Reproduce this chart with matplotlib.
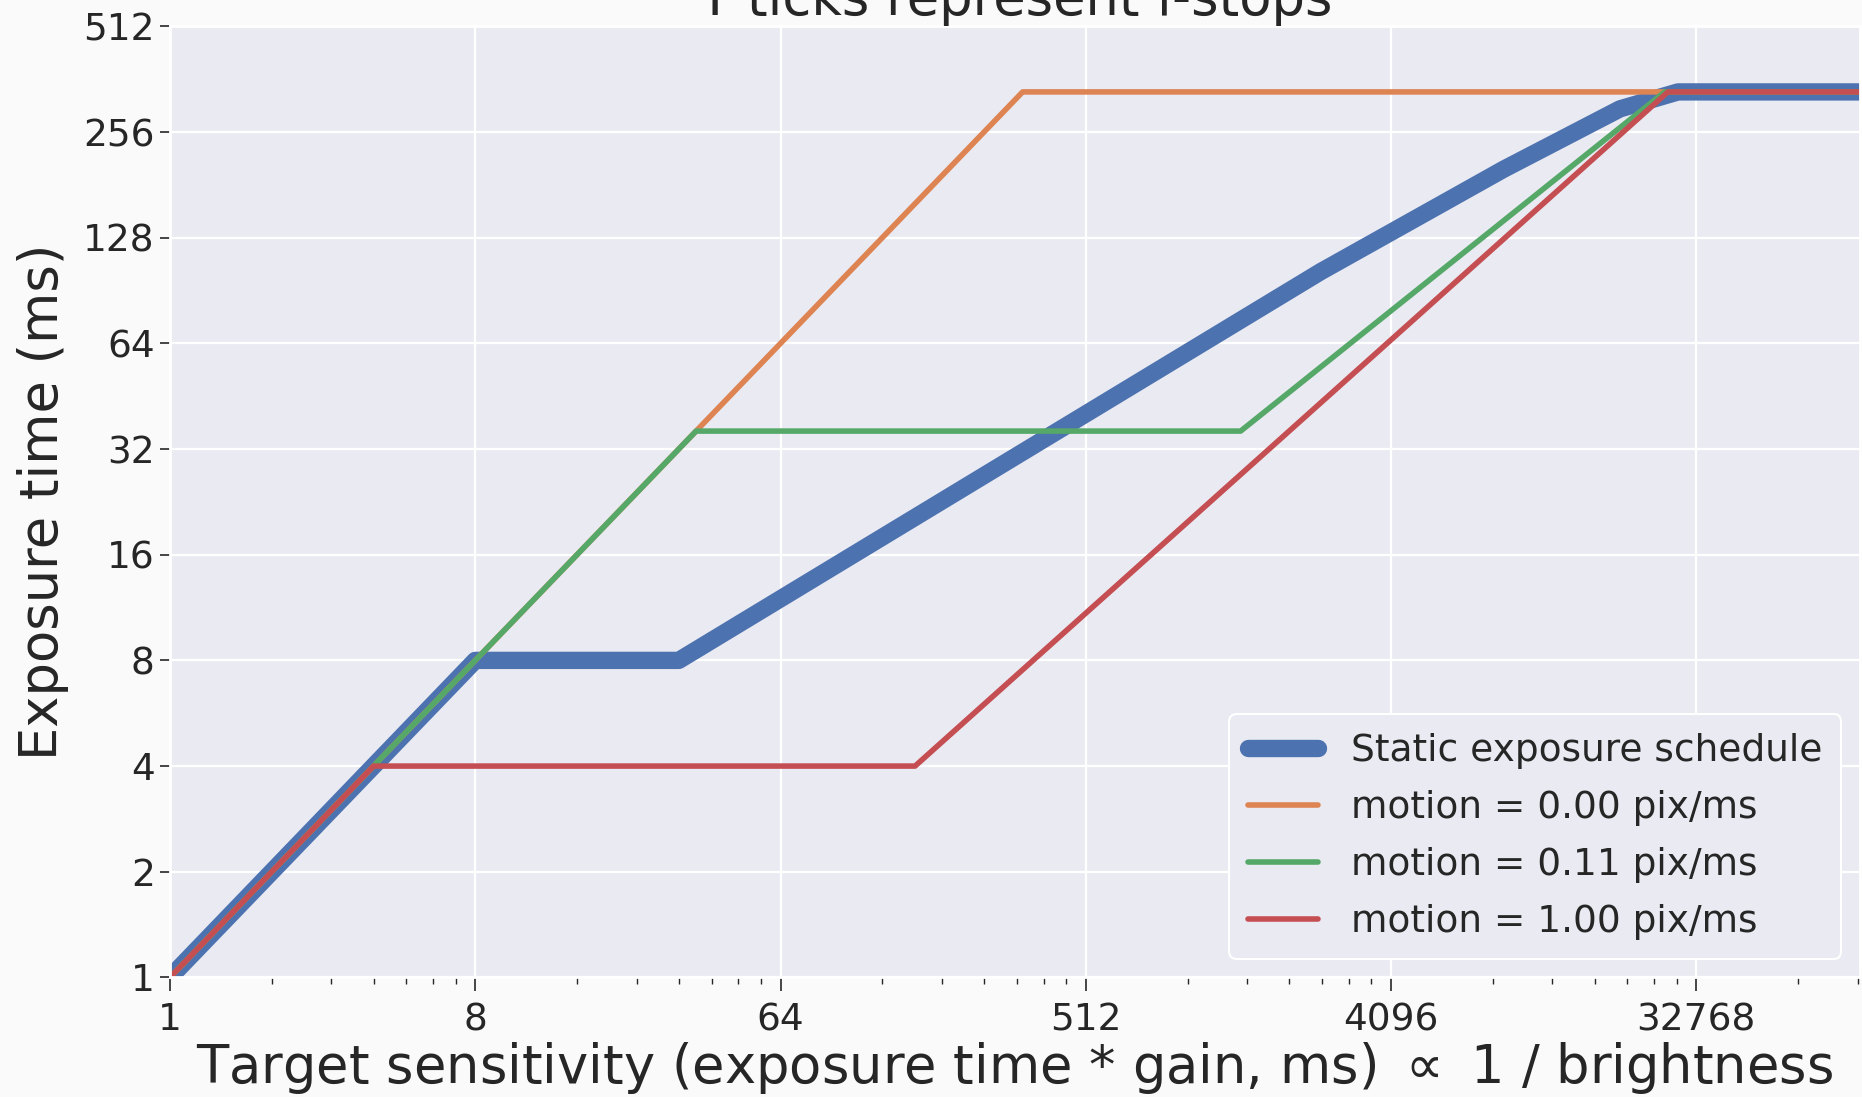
import matplotlib
matplotlib.use("Agg")
import matplotlib.pyplot as plt
from matplotlib.ticker import FixedLocator, FuncFormatter, LogLocator, NullFormatter

# data (x = target sensitivity, y = exposure time in ms)
static_x = [1, 8, 32, 2539, 8840, 19480, 28920, 100000]
static_y = [1, 8, 8, 102.5, 200.8, 298, 333, 333]

m000_x = [1, 333, 100000]
m000_y = [1, 333, 333]

m011_x = [1, 36, 1470, 26400, 100000]
m011_y = [1, 36, 36, 333, 333]

m100_x = [1, 4, 160, 27000, 100000]
m100_y = [1, 4, 4, 333, 333]

x_ticks = [1, 8, 64, 512, 4096, 32768]
y_ticks = [1, 2, 4, 8, 16, 32, 64, 128, 256, 512]

plt.style.use("seaborn-v0_8-darkgrid")
plt.rcParams['font.family'] = ['DejaVu Sans']

fig = plt.figure(figsize=(18.62, 10.97), dpi=100, facecolor='#fafafa')
ax = fig.add_axes([0.0913, 0.109, 0.9077, 0.867])
ax.set_facecolor('#eaeaf2')

ax.plot(static_x, static_y, color='#4c72b0', lw=12.5, solid_capstyle='round',
        solid_joinstyle='round', label='Static exposure schedule')
ax.plot(m000_x, m000_y, color='#dd8452', lw=4, label='motion = 0.00 pix/ms')
ax.plot(m011_x, m011_y, color='#55a868', lw=4, label='motion = 0.11 pix/ms')
ax.plot(m100_x, m100_y, color='#c44e52', lw=4, label='motion = 1.00 pix/ms')

ax.set_xscale('log', base=8)
ax.set_yscale('log', base=2)
ax.set_xlim(1, 100000)
ax.set_ylim(1, 512)

fmt = FuncFormatter(lambda v, p: '%d' % round(v))
ax.xaxis.set_major_locator(FixedLocator(x_ticks))
ax.xaxis.set_major_formatter(fmt)
ax.xaxis.set_minor_locator(LogLocator(base=8, subs=[2, 3, 4, 5, 6, 7], numticks=50))
ax.xaxis.set_minor_formatter(NullFormatter())
ax.yaxis.set_major_locator(FixedLocator(y_ticks))
ax.yaxis.set_major_formatter(fmt)
ax.yaxis.set_minor_locator(FixedLocator([]))

ax.grid(True, which='major', color='white', lw=1.6)
ax.grid(False, which='minor')
for s in ax.spines.values():
    s.set_color('white')
    s.set_linewidth(2)

ax.tick_params(axis='both', which='major', direction='out', length=7, width=1.2,
               color='#262626', labelcolor='#262626', labelsize=27, pad=4)
ax.tick_params(axis='x', which='minor', direction='out', length=5, width=1.0,
               color='#262626')
ax.tick_params(axis='x', which='major', length=10, pad=8)
ax.tick_params(bottom=True, left=True)

ax.set_xlabel(r'Target sensitivity (exposure time * gain, ms) $\propto$ 1 / brightness',
              fontsize=38, color='#262626', labelpad=1)
ax.set_ylabel('Exposure time (ms)', fontsize=38, color='#262626', labelpad=10)
ax.set_title('Y ticks represent f-stops', fontsize=38, color='#262626', pad=6)

leg = ax.legend(loc='lower right', fontsize=27, frameon=True, facecolor='#eaeaf2',
                edgecolor='white', framealpha=1, handlelength=1.85, borderpad=0.5,
                labelspacing=0.56, handletextpad=0.9)
leg.get_frame().set_linewidth(1.5)

fig.savefig('out.png', dpi=100, facecolor=fig.get_facecolor())
